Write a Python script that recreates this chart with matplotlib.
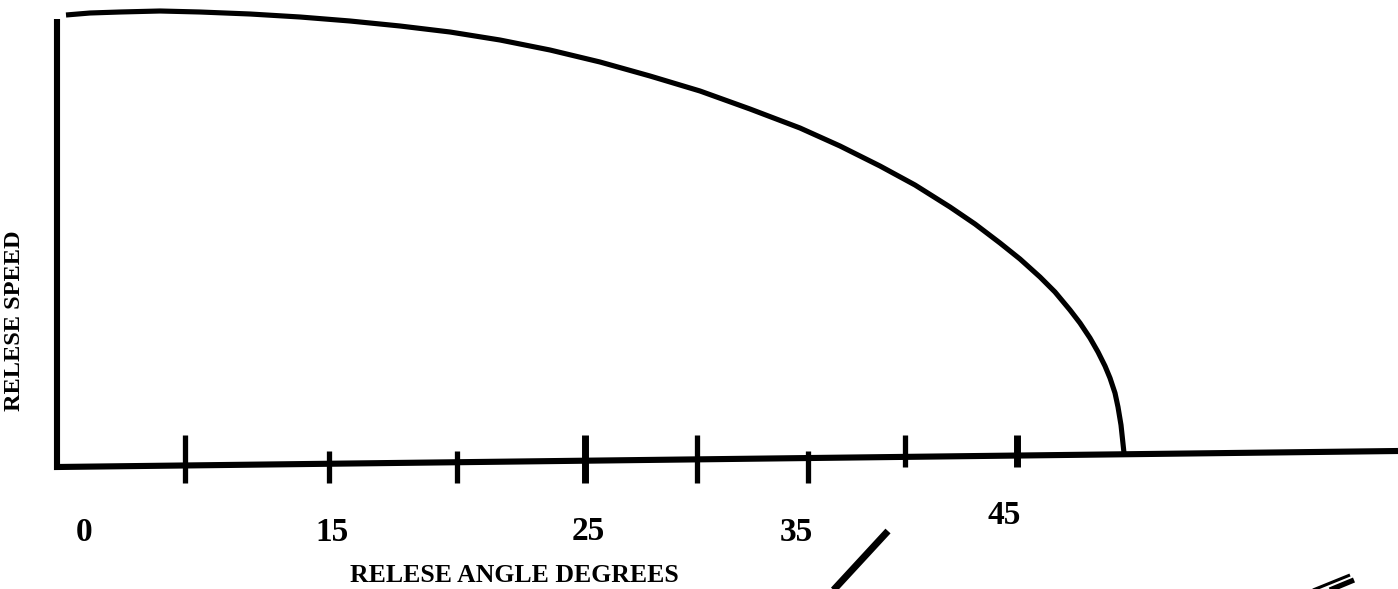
'''Sketch: release speed vs release angle.
Drawn in pixel coordinates of the original sketch.'''

import matplotlib.pyplot as plt

# curve (x, y in pixels, y down)
curve_x = [66, 90, 120, 160, 200, 250, 300, 350, 400, 450, 500, 550, 600,
           650, 700, 750, 800, 840, 880, 915, 950, 975, 1000, 1020, 1040,
           1055, 1070, 1080, 1090, 1098, 1105, 1110, 1115, 1118, 1121, 1124]
curve_y = [15, 13, 12, 11, 12, 14, 17, 21, 26, 32, 40, 50, 62,
           76, 91, 109, 128, 146, 166, 185, 207, 224, 243, 259, 277,
           292, 310, 323, 338, 352, 366, 378, 393, 407, 425, 453]

# axes frame
axis_x = [57, 57, 1398]
axis_y = [19, 467, 451]

# tick marks on the angle axis
tick_x = [185, 329, 457, 585, 697, 808, 905, 1017]
tick_top = [435, 451, 451, 435, 435, 451, 435, 435]
tick_bot = [483, 483, 483, 483, 483, 483, 467, 467]
tick_lw = [3.8, 3.8, 3.8, 5.0, 3.8, 3.8, 3.8, 5.0]

# angle labels
label_text = ['0', '15', '25', '35', '45']
label_x = [84, 332, 588, 796, 1004]
label_y = [541, 541, 540, 541, 524]

# stray strokes at the bottom
stroke_x = [888, 828]
stroke_y = [531, 596]
pair_x = [[1313, 1350], [1325, 1354]]
pair_y = [[590, 575], [592, 580]]
pair_lw = [2.2, 3.8]

fig = plt.figure(figsize=(13.98, 5.89), dpi=100)
ax = fig.add_axes([0, 0, 1, 1])
ax.set_xlim(0, 1398)
ax.set_ylim(589, 0)
ax.axis('off')

ax.plot(axis_x, axis_y, color='k', lw=4.4, solid_joinstyle='miter',
        solid_capstyle='butt')
ax.plot(curve_x, curve_y, color='k', lw=3.7, solid_capstyle='butt',
        solid_joinstyle='round')

for x, t, b, w in zip(tick_x, tick_top, tick_bot, tick_lw):
    ax.plot([x, x], [t, b], color='k', lw=w, solid_capstyle='butt')

font = dict(family='Liberation Serif', weight='bold')
for s, x, y in zip(label_text, label_x, label_y):
    ax.text(x, y, s, ha='center', va='baseline', fontsize=24, **font)

ax.text(350, 582, 'RELESE ANGLE DEGREES', ha='left', va='baseline',
        fontsize=18.5, **font)
ax.text(15, 321, 'RELESE SPEED', ha='center', va='center', rotation=90,
        fontsize=17.5, **font)

ax.plot(stroke_x, stroke_y, color='k', lw=5.0, solid_capstyle='butt')
for xs, ys, w in zip(pair_x, pair_y, pair_lw):
    ax.plot(xs, ys, color='k', lw=w, solid_capstyle='butt')

fig.savefig('out.png', dpi=100)
